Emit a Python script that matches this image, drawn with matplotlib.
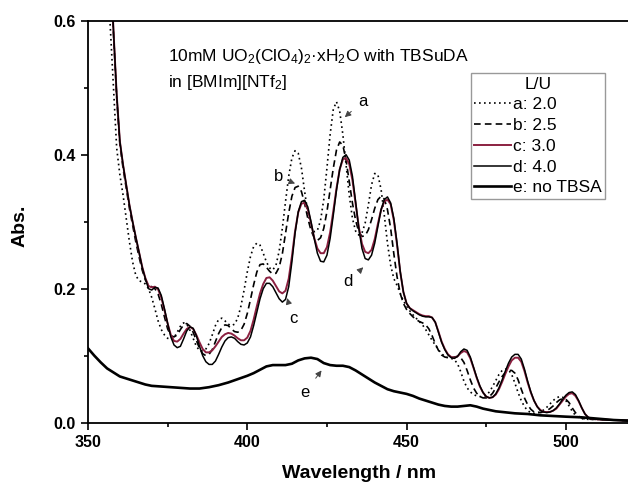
import matplotlib
matplotlib.use("Agg")
import matplotlib.pyplot as plt
from matplotlib.ticker import MultipleLocator, FormatStrFormatter

plt.rcParams['font.family'] = ['Liberation Sans', 'DejaVu Sans']
plt.rcParams['mathtext.fontset'] = 'custom'
plt.rcParams['mathtext.rm'] = 'Liberation Sans'
plt.rcParams['mathtext.it'] = 'Liberation Sans:italic'
plt.rcParams['mathtext.bf'] = 'Liberation Sans:bold'

# ---------------- data ----------------
tail_wl = [510, 515, 520]
wl_bcd = list(range(357, 509)) + tail_wl
wl_a = list(range(356, 509)) + tail_wl

abs_a = [
    0.68, 0.59, 0.50, 0.41, 0.37, 0.34, 0.305, 0.270, 0.240, 0.220,
    0.212, 0.210, 0.207, 0.200, 0.187, 0.170, 0.152, 0.139, 0.131, 0.126,
    0.124, 0.127, 0.135, 0.144, 0.149, 0.147, 0.138, 0.126, 0.114, 0.108,
    0.107, 0.110, 0.118, 0.131, 0.145, 0.154, 0.156, 0.152, 0.147, 0.145,
    0.147, 0.156, 0.174, 0.198, 0.225, 0.248, 0.263, 0.268, 0.265, 0.253,
    0.240, 0.231, 0.228, 0.235, 0.256, 0.290, 0.330, 0.368, 0.395, 0.406,
    0.402, 0.380, 0.345, 0.313, 0.293, 0.285, 0.287, 0.302, 0.333, 0.380,
    0.430, 0.468, 0.479, 0.465, 0.430, 0.385, 0.340, 0.305, 0.286, 0.280,
    0.283, 0.298, 0.325, 0.355, 0.372, 0.370, 0.348, 0.310, 0.268, 0.235,
    0.215, 0.205, 0.193, 0.182, 0.174, 0.167, 0.161, 0.156, 0.151, 0.146,
    0.139, 0.131, 0.123, 0.116, 0.109, 0.103, 0.099, 0.097, 0.096, 0.094,
    0.088, 0.076, 0.062, 0.052, 0.046, 0.042, 0.040, 0.039, 0.039, 0.041,
    0.046, 0.054, 0.063, 0.072, 0.078, 0.080, 0.079, 0.072, 0.059, 0.045,
    0.033, 0.024, 0.018, 0.015, 0.014, 0.015, 0.016, 0.019, 0.023, 0.028,
    0.033, 0.037, 0.039, 0.038, 0.033, 0.025, 0.017, 0.011, 0.008, 0.006,
    0.0055, 0.005, 0.005,
    0.005, 0.004, 0.003]

abs_b = [
    0.70, 0.58, 0.485, 0.415, 0.38, 0.35, 0.32, 0.295, 0.270, 0.248,
    0.228, 0.213, 0.205, 0.203, 0.200, 0.192, 0.177, 0.158, 0.140, 0.130,
    0.128, 0.131, 0.139, 0.146, 0.148, 0.144, 0.135, 0.123, 0.111, 0.103,
    0.100, 0.102, 0.109, 0.121, 0.133, 0.142, 0.146, 0.145, 0.140, 0.136,
    0.135, 0.138, 0.147, 0.163, 0.184, 0.206, 0.225, 0.236, 0.237, 0.232,
    0.226, 0.222, 0.223, 0.232, 0.252, 0.282, 0.313, 0.338, 0.351, 0.353,
    0.345, 0.327, 0.305, 0.287, 0.276, 0.272, 0.276, 0.290, 0.315, 0.347,
    0.380, 0.407, 0.419, 0.414, 0.392, 0.360, 0.328, 0.302, 0.285, 0.278,
    0.279, 0.288, 0.303, 0.320, 0.333, 0.338, 0.334, 0.318, 0.290, 0.252,
    0.218, 0.193, 0.178, 0.169, 0.163, 0.158, 0.154, 0.151, 0.149, 0.146,
    0.140, 0.130, 0.118, 0.108, 0.101, 0.098, 0.097, 0.097, 0.098, 0.099,
    0.097, 0.090, 0.078, 0.064, 0.052, 0.044, 0.039, 0.037, 0.037, 0.039,
    0.044, 0.052, 0.061, 0.069, 0.075, 0.078, 0.078, 0.074, 0.064, 0.050,
    0.037, 0.027, 0.020, 0.016, 0.015, 0.015, 0.016, 0.018, 0.021, 0.025,
    0.030, 0.034, 0.036, 0.035, 0.030, 0.022, 0.015, 0.010, 0.007, 0.006,
    0.0055, 0.005,
    0.005, 0.004, 0.003]

abs_c = [
    0.70, 0.585, 0.49, 0.42, 0.385, 0.355, 0.325, 0.300, 0.277, 0.255,
    0.233, 0.216, 0.204, 0.202, 0.203, 0.199, 0.187, 0.168, 0.148, 0.131,
    0.122, 0.121, 0.125, 0.133, 0.140, 0.143, 0.140, 0.131, 0.120, 0.110,
    0.105, 0.105, 0.108, 0.114, 0.121, 0.128, 0.132, 0.134, 0.133, 0.130,
    0.126, 0.123, 0.123, 0.127, 0.137, 0.154, 0.174, 0.193, 0.207, 0.216,
    0.217, 0.212, 0.204, 0.196, 0.193, 0.197, 0.215, 0.248, 0.286, 0.314,
    0.327, 0.328, 0.318, 0.298, 0.276, 0.260, 0.253, 0.253, 0.262, 0.284,
    0.316, 0.350, 0.378, 0.393, 0.395, 0.386, 0.362, 0.327, 0.292, 0.267,
    0.255, 0.253, 0.258, 0.274, 0.297, 0.318, 0.330, 0.333, 0.326, 0.302,
    0.266, 0.225, 0.195, 0.178, 0.171, 0.168, 0.165, 0.162, 0.160, 0.159,
    0.159, 0.157, 0.150, 0.136, 0.121, 0.110, 0.102, 0.098, 0.097, 0.099,
    0.104, 0.107, 0.105, 0.096, 0.082, 0.067, 0.054, 0.045, 0.039, 0.037,
    0.038, 0.042, 0.050, 0.061, 0.073, 0.084, 0.093, 0.097, 0.097, 0.091,
    0.077, 0.060, 0.045, 0.033, 0.024, 0.019, 0.016, 0.016, 0.016, 0.018,
    0.021, 0.027, 0.033, 0.039, 0.043, 0.044, 0.040, 0.032, 0.022, 0.013,
    0.008, 0.006,
    0.005, 0.004, 0.003]

abs_d = [
    0.70, 0.585, 0.49, 0.42, 0.385, 0.355, 0.325, 0.300, 0.277, 0.255,
    0.232, 0.215, 0.200, 0.198, 0.202, 0.201, 0.190, 0.170, 0.148, 0.128,
    0.116, 0.112, 0.114, 0.125, 0.137, 0.143, 0.141, 0.130, 0.114, 0.100,
    0.091, 0.087, 0.087, 0.092, 0.102, 0.113, 0.122, 0.127, 0.128, 0.126,
    0.121, 0.117, 0.116, 0.119, 0.128, 0.145, 0.165, 0.185, 0.200, 0.208,
    0.208, 0.203, 0.194, 0.185, 0.180, 0.184, 0.203, 0.240, 0.283, 0.315,
    0.330, 0.332, 0.322, 0.300, 0.275, 0.253, 0.241, 0.240, 0.250, 0.275,
    0.310, 0.347, 0.378, 0.396, 0.400, 0.392, 0.368, 0.330, 0.290, 0.260,
    0.245, 0.243, 0.250, 0.268, 0.293, 0.318, 0.333, 0.337, 0.328, 0.305,
    0.268, 0.226, 0.195, 0.178, 0.171, 0.167, 0.164, 0.161, 0.159, 0.158,
    0.158, 0.157, 0.150, 0.135, 0.120, 0.109, 0.101, 0.097, 0.096, 0.099,
    0.106, 0.110, 0.108, 0.098, 0.083, 0.068, 0.055, 0.045, 0.039, 0.037,
    0.038, 0.043, 0.052, 0.064, 0.077, 0.089, 0.098, 0.102, 0.102, 0.095,
    0.080, 0.062, 0.046, 0.033, 0.024, 0.018, 0.016, 0.015, 0.016, 0.018,
    0.022, 0.028, 0.035, 0.041, 0.045, 0.046, 0.042, 0.033, 0.022, 0.013,
    0.008, 0.006,
    0.005, 0.004, 0.003]

wl_e = [350, 352, 354, 356, 358, 360, 362, 364, 366, 368, 370, 373, 376, 379,
        382, 385, 388, 391, 394, 397, 400, 402, 404, 406, 408, 410, 412, 414,
        416, 418, 420, 422, 424, 426, 428, 430, 432, 434, 436, 438, 440, 442,
        444, 446, 448, 450, 452, 454, 456, 458, 460, 462, 464, 466, 468, 470,
        472, 474, 476, 478, 480, 484, 488, 492, 496, 500, 505, 510, 515, 520]
abs_e = [0.111, 0.100, 0.090, 0.081, 0.075, 0.069, 0.066, 0.063, 0.060, 0.057,
         0.055, 0.054, 0.053, 0.052, 0.051, 0.051, 0.053, 0.056, 0.060, 0.065,
         0.070, 0.074, 0.079, 0.084, 0.086, 0.086, 0.086, 0.088, 0.093, 0.096,
         0.097, 0.095, 0.089, 0.086, 0.085, 0.085, 0.083, 0.078, 0.072, 0.066,
         0.060, 0.055, 0.050, 0.047, 0.045, 0.043, 0.040, 0.036, 0.033, 0.030,
         0.027, 0.025, 0.024, 0.024, 0.025, 0.026, 0.024, 0.021, 0.019, 0.017,
         0.016, 0.014, 0.013, 0.011, 0.010, 0.009, 0.008, 0.006, 0.004, 0.003]

legend_labels = ['a: 2.0', 'b: 2.5', 'c: 3.0', 'd: 4.0', 'e: no TBSA']
curve_letters = ['a', 'b', 'c', 'd', 'e']
letter_text_xy = [(436.3, 0.480), (409.7, 0.367), (414.4, 0.156), (431.7, 0.210), (418.1, 0.045)]
letter_head_xy = [(430.6, 0.456), (415.0, 0.357), (412.5, 0.186), (436.4, 0.232), (423.3, 0.078)]

# ---------------- figure ----------------
W, H = 628, 482
fig = plt.figure(figsize=(W / 100, H / 100), dpi=100)
ax = fig.add_axes([88 / W, (H - 422.7) / H, (628 - 88) / W, 402 / H])

maroon = '#8B2040'
la, = ax.plot(wl_a, abs_a, color='black', lw=1.2, ls=(0, (1, 2)))
lb, = ax.plot(wl_bcd, abs_b, color='black', lw=1.2, ls=(0, (4, 2.5)))
lc, = ax.plot(wl_bcd, abs_c, color=maroon, lw=1.4)
ld, = ax.plot(wl_bcd, abs_d, color='black', lw=1.1)
le, = ax.plot(wl_e, abs_e, color='black', lw=1.9)

ax.set_xlim(350, 519.5)
ax.set_ylim(0.0, 0.6)
ax.xaxis.set_major_locator(MultipleLocator(50))
ax.xaxis.set_minor_locator(MultipleLocator(25))
ax.yaxis.set_major_locator(MultipleLocator(0.2))
ax.yaxis.set_minor_locator(MultipleLocator(0.1))
ax.yaxis.set_major_formatter(FormatStrFormatter('%.1f'))
ax.tick_params(which='both', direction='out', width=1.2, top=False, right=False)
ax.tick_params(which='major', length=5, pad=4, labelsize=11.5)
ax.tick_params(which='minor', length=3)
for lab in ax.get_xticklabels() + ax.get_yticklabels():
    lab.set_fontweight('bold')
for s in ['left', 'bottom', 'top']:
    ax.spines[s].set_linewidth(1.3)
ax.spines['right'].set_visible(False)

fig.text(20.5 / W, 1 - 226 / H, 'Abs.', rotation=90, ha='center', va='center',
         fontsize=14, fontweight='bold')
fig.text(359.5 / W, 1 - 474 / H, 'Wavelength / nm', ha='center', va='center',
         fontsize=14, fontweight='bold')

fig.text(168 / W, 1 - 57 / H, r'10mM UO$_2$(ClO$_4$)$_2$·xH$_2$O with TBSuDA',
         ha='left', va='center', fontsize=12.5)
fig.text(168 / W, 1 - 83 / H, r'in [BMIm][NTf$_2$]',
         ha='left', va='center', fontsize=12.5)

for letter, txy, hxy in zip(curve_letters, letter_text_xy, letter_head_xy):
    ax.annotate(letter, xy=hxy, xytext=txy, ha='center', va='center', fontsize=12,
                arrowprops=dict(arrowstyle='-|>', color='#444444', lw=0.7,
                                mutation_scale=9, shrinkA=4, shrinkB=0))

leg = ax.legend([la, lb, lc, ld, le], legend_labels, title='L/U',
                loc='upper left', bbox_to_anchor=(470.7 / W, 1 - 73.3 / H),
                bbox_transform=fig.transFigure, fontsize=12.5, title_fontsize=12.5,
                frameon=True, fancybox=False, framealpha=1, edgecolor='#999999',
                borderpad=0.2, labelspacing=0.32, handlelength=2.1,
                handletextpad=0.15, borderaxespad=0)
leg.get_frame().set_linewidth(1.0)

fig.savefig('out.png', dpi=100)
